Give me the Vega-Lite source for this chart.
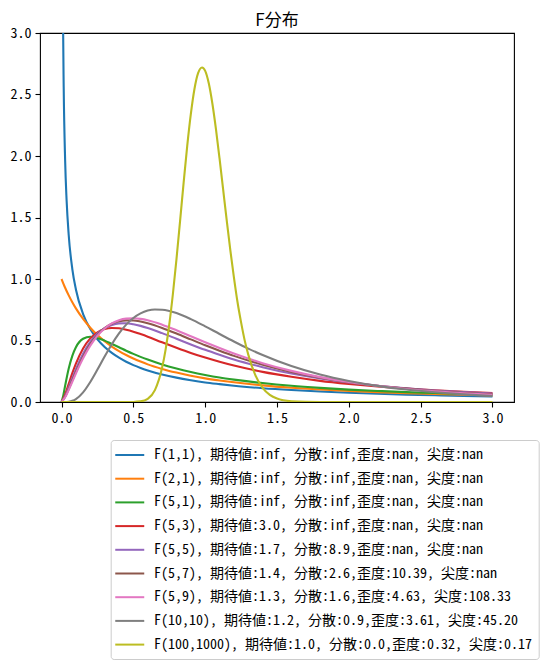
{
  "$schema": "https://vega.github.io/schema/vega-lite/v6.json",
  "width": 474,
  "height": 369,
  "autosize": {"type": "none"},
  "padding": {"left": 40, "top": 33, "right": 32, "bottom": 267},
  "title": {
    "text": "F分布",
    "font": "Noto Sans CJK JP",
    "fontSize": 17,
    "fontWeight": "normal",
    "color": "black",
    "anchor": "middle",
    "offset": -4
  },
  "config": {
    "view": {"stroke": "black", "strokeWidth": 1.1},
    "axis": {
      "domain": false,
      "grid": false,
      "ticks": true,
      "tickColor": "black",
      "tickSize": 5,
      "tickWidth": 1.1,
      "labelFont": "Noto Sans Mono CJK JP, Noto Sans CJK JP",
      "labelFontSize": 14,
      "labelColor": "black",
      "labelPadding": 4,
      "title": null
    },
    "legend": {
      "orient": "none",
      "legendX": 70.7,
      "legendY": 407,
      "title": null,
      "strokeColor": "#cccccc",
      "fillColor": "white",
      "cornerRadius": 3,
      "padding": 6.5,
      "symbolType": "M-1,0H3",
      "symbolStrokeWidth": 2,
      "symbolSize": 210,
      "symbolOffset": -3.2,
      "labelFont": "Noto Sans Mono CJK JP, Noto Sans CJK JP",
      "labelFontSize": 14,
      "labelColor": "black",
      "labelOffset": 23,
      "labelLimit": 0,
      "rowPadding": 7.7
    }
  },
  "datasets": {
    "labels": [
      {"d": "1,1", "label": "F(1,1), 期待値:inf, 分散:inf,歪度:nan, 尖度:nan"},
      {"d": "2,1", "label": "F(2,1), 期待値:inf, 分散:inf,歪度:nan, 尖度:nan"},
      {"d": "5,1", "label": "F(5,1), 期待値:inf, 分散:inf,歪度:nan, 尖度:nan"},
      {"d": "5,3", "label": "F(5,3), 期待値:3.0, 分散:inf,歪度:nan, 尖度:nan"},
      {"d": "5,5", "label": "F(5,5), 期待値:1.7, 分散:8.9,歪度:nan, 尖度:nan"},
      {"d": "5,7", "label": "F(5,7), 期待値:1.4, 分散:2.6,歪度:10.39, 尖度:nan"},
      {"d": "5,9", "label": "F(5,9), 期待値:1.3, 分散:1.6,歪度:4.63, 尖度:108.33"},
      {"d": "10,10", "label": "F(10,10), 期待値:1.2, 分散:0.9,歪度:3.61, 尖度:45.20"},
      {"d": "100,1000", "label": "F(100,1000), 期待値:1.0, 分散:0.0,歪度:0.32, 尖度:0.17"}
    ],
    "curves": [
      {"d": "1,1", "x": 0.002, "y": 7.103}, {"d": "1,1", "x": 0.005, "y": 4.479}, {"d": "1,1", "x": 0.01, "y": 3.152},
      {"d": "1,1", "x": 0.015, "y": 2.561}, {"d": "1,1", "x": 0.025, "y": 1.964}, {"d": "1,1", "x": 0.035, "y": 1.644},
      {"d": "1,1", "x": 0.05, "y": 1.356}, {"d": "1,1", "x": 0.075, "y": 1.081}, {"d": "1,1", "x": 0.1, "y": 0.915},
      {"d": "1,1", "x": 0.15, "y": 0.715}, {"d": "1,1", "x": 0.2, "y": 0.593}, {"d": "1,1", "x": 0.25, "y": 0.509},
      {"d": "1,1", "x": 0.3, "y": 0.447}, {"d": "1,1", "x": 0.35, "y": 0.399}, {"d": "1,1", "x": 0.4, "y": 0.360},
      {"d": "1,1", "x": 0.45, "y": 0.327}, {"d": "1,1", "x": 0.5, "y": 0.300}, {"d": "1,1", "x": 0.55, "y": 0.277},
      {"d": "1,1", "x": 0.6, "y": 0.257}, {"d": "1,1", "x": 0.7, "y": 0.224}, {"d": "1,1", "x": 0.8, "y": 0.198},
      {"d": "1,1", "x": 0.9, "y": 0.177}, {"d": "1,1", "x": 1.0, "y": 0.159}, {"d": "1,1", "x": 1.1, "y": 0.145},
      {"d": "1,1", "x": 1.2, "y": 0.132}, {"d": "1,1", "x": 1.4, "y": 0.112}, {"d": "1,1", "x": 1.6, "y": 0.097},
      {"d": "1,1", "x": 1.8, "y": 0.085}, {"d": "1,1", "x": 2.0, "y": 0.075}, {"d": "1,1", "x": 2.2, "y": 0.067},
      {"d": "1,1", "x": 2.4, "y": 0.060}, {"d": "1,1", "x": 2.6, "y": 0.055}, {"d": "1,1", "x": 2.8, "y": 0.050},
      {"d": "1,1", "x": 3.0, "y": 0.046},

      {"d": "2,1", "x": 0, "y": 1.0}, {"d": "2,1", "x": 0.025, "y": 0.929}, {"d": "2,1", "x": 0.05, "y": 0.867},
      {"d": "2,1", "x": 0.075, "y": 0.811}, {"d": "2,1", "x": 0.1, "y": 0.761}, {"d": "2,1", "x": 0.15, "y": 0.675},
      {"d": "2,1", "x": 0.2, "y": 0.604}, {"d": "2,1", "x": 0.25, "y": 0.544}, {"d": "2,1", "x": 0.3, "y": 0.494},
      {"d": "2,1", "x": 0.35, "y": 0.451}, {"d": "2,1", "x": 0.4, "y": 0.414}, {"d": "2,1", "x": 0.45, "y": 0.382},
      {"d": "2,1", "x": 0.5, "y": 0.354}, {"d": "2,1", "x": 0.55, "y": 0.329}, {"d": "2,1", "x": 0.6, "y": 0.306},
      {"d": "2,1", "x": 0.7, "y": 0.269}, {"d": "2,1", "x": 0.8, "y": 0.239}, {"d": "2,1", "x": 0.9, "y": 0.213},
      {"d": "2,1", "x": 1.0, "y": 0.192}, {"d": "2,1", "x": 1.1, "y": 0.175}, {"d": "2,1", "x": 1.2, "y": 0.160},
      {"d": "2,1", "x": 1.4, "y": 0.135}, {"d": "2,1", "x": 1.6, "y": 0.116}, {"d": "2,1", "x": 1.8, "y": 0.101},
      {"d": "2,1", "x": 2.0, "y": 0.089}, {"d": "2,1", "x": 2.2, "y": 0.080}, {"d": "2,1", "x": 2.4, "y": 0.072},
      {"d": "2,1", "x": 2.6, "y": 0.065}, {"d": "2,1", "x": 2.8, "y": 0.059}, {"d": "2,1", "x": 3.0, "y": 0.054},

      {"d": "5,1", "x": 0, "y": 0}, {"d": "5,1", "x": 0.0125, "y": 0.055}, {"d": "5,1", "x": 0.025, "y": 0.132},
      {"d": "5,1", "x": 0.05, "y": 0.272}, {"d": "5,1", "x": 0.075, "y": 0.375}, {"d": "5,1", "x": 0.1, "y": 0.445},
      {"d": "5,1", "x": 0.15, "y": 0.514}, {"d": "5,1", "x": 0.2, "y": 0.531}, {"d": "5,1", "x": 0.25, "y": 0.521},
      {"d": "5,1", "x": 0.3, "y": 0.499}, {"d": "5,1", "x": 0.35, "y": 0.472}, {"d": "5,1", "x": 0.4, "y": 0.445},
      {"d": "5,1", "x": 0.45, "y": 0.417}, {"d": "5,1", "x": 0.5, "y": 0.391}, {"d": "5,1", "x": 0.55, "y": 0.367},
      {"d": "5,1", "x": 0.6, "y": 0.345}, {"d": "5,1", "x": 0.7, "y": 0.305}, {"d": "5,1", "x": 0.8, "y": 0.272},
      {"d": "5,1", "x": 0.9, "y": 0.244}, {"d": "5,1", "x": 1.0, "y": 0.220}, {"d": "5,1", "x": 1.1, "y": 0.199},
      {"d": "5,1", "x": 1.2, "y": 0.182}, {"d": "5,1", "x": 1.4, "y": 0.154}, {"d": "5,1", "x": 1.6, "y": 0.132},
      {"d": "5,1", "x": 1.8, "y": 0.115}, {"d": "5,1", "x": 2.0, "y": 0.101}, {"d": "5,1", "x": 2.2, "y": 0.090},
      {"d": "5,1", "x": 2.4, "y": 0.080}, {"d": "5,1", "x": 2.6, "y": 0.073}, {"d": "5,1", "x": 2.8, "y": 0.066},
      {"d": "5,1", "x": 3.0, "y": 0.060},

      {"d": "5,3", "x": 0, "y": 0}, {"d": "5,3", "x": 0.025, "y": 0.061}, {"d": "5,3", "x": 0.05, "y": 0.148},
      {"d": "5,3", "x": 0.075, "y": 0.234}, {"d": "5,3", "x": 0.1, "y": 0.312}, {"d": "5,3", "x": 0.15, "y": 0.435},
      {"d": "5,3", "x": 0.2, "y": 0.517}, {"d": "5,3", "x": 0.25, "y": 0.567}, {"d": "5,3", "x": 0.3, "y": 0.593},
      {"d": "5,3", "x": 0.35, "y": 0.602}, {"d": "5,3", "x": 0.4, "y": 0.599}, {"d": "5,3", "x": 0.45, "y": 0.588},
      {"d": "5,3", "x": 0.5, "y": 0.572}, {"d": "5,3", "x": 0.55, "y": 0.552}, {"d": "5,3", "x": 0.6, "y": 0.531},
      {"d": "5,3", "x": 0.7, "y": 0.485}, {"d": "5,3", "x": 0.8, "y": 0.441}, {"d": "5,3", "x": 0.9, "y": 0.399},
      {"d": "5,3", "x": 1.0, "y": 0.361}, {"d": "5,3", "x": 1.1, "y": 0.327}, {"d": "5,3", "x": 1.2, "y": 0.296},
      {"d": "5,3", "x": 1.4, "y": 0.245}, {"d": "5,3", "x": 1.6, "y": 0.205}, {"d": "5,3", "x": 1.8, "y": 0.172},
      {"d": "5,3", "x": 2.0, "y": 0.147}, {"d": "5,3", "x": 2.2, "y": 0.126}, {"d": "5,3", "x": 2.4, "y": 0.109},
      {"d": "5,3", "x": 2.6, "y": 0.095}, {"d": "5,3", "x": 2.8, "y": 0.083}, {"d": "5,3", "x": 3.0, "y": 0.073},

      {"d": "5,5", "x": 0, "y": 0}, {"d": "5,5", "x": 0.025, "y": 0.047}, {"d": "5,5", "x": 0.05, "y": 0.119},
      {"d": "5,5", "x": 0.075, "y": 0.194}, {"d": "5,5", "x": 0.1, "y": 0.267}, {"d": "5,5", "x": 0.15, "y": 0.392},
      {"d": "5,5", "x": 0.2, "y": 0.488}, {"d": "5,5", "x": 0.25, "y": 0.556}, {"d": "5,5", "x": 0.3, "y": 0.601},
      {"d": "5,5", "x": 0.35, "y": 0.627}, {"d": "5,5", "x": 0.4, "y": 0.639}, {"d": "5,5", "x": 0.45, "y": 0.640},
      {"d": "5,5", "x": 0.5, "y": 0.632}, {"d": "5,5", "x": 0.55, "y": 0.619}, {"d": "5,5", "x": 0.6, "y": 0.602},
      {"d": "5,5", "x": 0.7, "y": 0.560}, {"d": "5,5", "x": 0.8, "y": 0.514}, {"d": "5,5", "x": 0.9, "y": 0.468},
      {"d": "5,5", "x": 1.0, "y": 0.424}, {"d": "5,5", "x": 1.1, "y": 0.384}, {"d": "5,5", "x": 1.2, "y": 0.346},
      {"d": "5,5", "x": 1.4, "y": 0.283}, {"d": "5,5", "x": 1.6, "y": 0.231}, {"d": "5,5", "x": 1.8, "y": 0.191},
      {"d": "5,5", "x": 2.0, "y": 0.158}, {"d": "5,5", "x": 2.2, "y": 0.132}, {"d": "5,5", "x": 2.4, "y": 0.111},
      {"d": "5,5", "x": 2.6, "y": 0.094}, {"d": "5,5", "x": 2.8, "y": 0.080}, {"d": "5,5", "x": 3.0, "y": 0.069},

      {"d": "5,7", "x": 0, "y": 0}, {"d": "5,7", "x": 0.025, "y": 0.042}, {"d": "5,7", "x": 0.05, "y": 0.106},
      {"d": "5,7", "x": 0.075, "y": 0.176}, {"d": "5,7", "x": 0.1, "y": 0.245}, {"d": "5,7", "x": 0.15, "y": 0.369},
      {"d": "5,7", "x": 0.2, "y": 0.470}, {"d": "5,7", "x": 0.25, "y": 0.546}, {"d": "5,7", "x": 0.3, "y": 0.600},
      {"d": "5,7", "x": 0.35, "y": 0.636}, {"d": "5,7", "x": 0.4, "y": 0.656}, {"d": "5,7", "x": 0.45, "y": 0.664},
      {"d": "5,7", "x": 0.5, "y": 0.663}, {"d": "5,7", "x": 0.55, "y": 0.654}, {"d": "5,7", "x": 0.6, "y": 0.640},
      {"d": "5,7", "x": 0.7, "y": 0.602}, {"d": "5,7", "x": 0.8, "y": 0.557}, {"d": "5,7", "x": 0.9, "y": 0.509},
      {"d": "5,7", "x": 1.0, "y": 0.461}, {"d": "5,7", "x": 1.1, "y": 0.417}, {"d": "5,7", "x": 1.2, "y": 0.375},
      {"d": "5,7", "x": 1.4, "y": 0.303}, {"d": "5,7", "x": 1.6, "y": 0.245}, {"d": "5,7", "x": 1.8, "y": 0.198},
      {"d": "5,7", "x": 2.0, "y": 0.161}, {"d": "5,7", "x": 2.2, "y": 0.132}, {"d": "5,7", "x": 2.4, "y": 0.109},
      {"d": "5,7", "x": 2.6, "y": 0.090}, {"d": "5,7", "x": 2.8, "y": 0.075}, {"d": "5,7", "x": 3.0, "y": 0.063},

      {"d": "5,9", "x": 0, "y": 0}, {"d": "5,9", "x": 0.025, "y": 0.038}, {"d": "5,9", "x": 0.05, "y": 0.099},
      {"d": "5,9", "x": 0.075, "y": 0.165}, {"d": "5,9", "x": 0.1, "y": 0.232}, {"d": "5,9", "x": 0.15, "y": 0.355},
      {"d": "5,9", "x": 0.2, "y": 0.458}, {"d": "5,9", "x": 0.25, "y": 0.539}, {"d": "5,9", "x": 0.3, "y": 0.598},
      {"d": "5,9", "x": 0.35, "y": 0.639}, {"d": "5,9", "x": 0.4, "y": 0.665}, {"d": "5,9", "x": 0.45, "y": 0.678},
      {"d": "5,9", "x": 0.5, "y": 0.681}, {"d": "5,9", "x": 0.55, "y": 0.676}, {"d": "5,9", "x": 0.6, "y": 0.665},
      {"d": "5,9", "x": 0.7, "y": 0.629}, {"d": "5,9", "x": 0.8, "y": 0.584}, {"d": "5,9", "x": 0.9, "y": 0.535},
      {"d": "5,9", "x": 1.0, "y": 0.486}, {"d": "5,9", "x": 1.1, "y": 0.439}, {"d": "5,9", "x": 1.2, "y": 0.394},
      {"d": "5,9", "x": 1.4, "y": 0.316}, {"d": "5,9", "x": 1.6, "y": 0.253}, {"d": "5,9", "x": 1.8, "y": 0.202},
      {"d": "5,9", "x": 2.0, "y": 0.162}, {"d": "5,9", "x": 2.2, "y": 0.131}, {"d": "5,9", "x": 2.4, "y": 0.106},
      {"d": "5,9", "x": 2.6, "y": 0.086}, {"d": "5,9", "x": 2.8, "y": 0.071}, {"d": "5,9", "x": 3.0, "y": 0.058},

      {"d": "10,10", "x": 0, "y": 0}, {"d": "10,10", "x": 0.025, "y": 0.0002}, {"d": "10,10", "x": 0.05, "y": 0.0024},
      {"d": "10,10", "x": 0.075, "y": 0.0097}, {"d": "10,10", "x": 0.1, "y": 0.0243}, {"d": "10,10", "x": 0.15, "y": 0.0788},
      {"d": "10,10", "x": 0.2, "y": 0.163}, {"d": "10,10", "x": 0.25, "y": 0.264}, {"d": "10,10", "x": 0.3, "y": 0.370},
      {"d": "10,10", "x": 0.35, "y": 0.470}, {"d": "10,10", "x": 0.4, "y": 0.558}, {"d": "10,10", "x": 0.45, "y": 0.629},
      {"d": "10,10", "x": 0.5, "y": 0.683}, {"d": "10,10", "x": 0.55, "y": 0.720}, {"d": "10,10", "x": 0.6, "y": 0.743},
      {"d": "10,10", "x": 0.65, "y": 0.752}, {"d": "10,10", "x": 0.7, "y": 0.750}, {"d": "10,10", "x": 0.8, "y": 0.723},
      {"d": "10,10", "x": 0.9, "y": 0.674}, {"d": "10,10", "x": 1.0, "y": 0.615}, {"d": "10,10", "x": 1.1, "y": 0.553},
      {"d": "10,10", "x": 1.2, "y": 0.492}, {"d": "10,10", "x": 1.3, "y": 0.434}, {"d": "10,10", "x": 1.4, "y": 0.382},
      {"d": "10,10", "x": 1.6, "y": 0.292}, {"d": "10,10", "x": 1.8, "y": 0.223}, {"d": "10,10", "x": 2.0, "y": 0.171},
      {"d": "10,10", "x": 2.2, "y": 0.131}, {"d": "10,10", "x": 2.4, "y": 0.101}, {"d": "10,10", "x": 2.6, "y": 0.079},
      {"d": "10,10", "x": 2.8, "y": 0.062}, {"d": "10,10", "x": 3.0, "y": 0.049},

      {"d": "100,1000", "x": 0, "y": 0}, {"d": "100,1000", "x": 0.4, "y": 0}, {"d": "100,1000", "x": 0.5, "y": 0.0006},
      {"d": "100,1000", "x": 0.55, "y": 0.0048}, {"d": "100,1000", "x": 0.6, "y": 0.0256}, {"d": "100,1000", "x": 0.65, "y": 0.0969},
      {"d": "100,1000", "x": 0.7, "y": 0.2784}, {"d": "100,1000", "x": 0.725, "y": 0.4305}, {"d": "100,1000", "x": 0.75, "y": 0.630},
      {"d": "100,1000", "x": 0.775, "y": 0.876}, {"d": "100,1000", "x": 0.8, "y": 1.160}, {"d": "100,1000", "x": 0.825, "y": 1.469},
      {"d": "100,1000", "x": 0.85, "y": 1.783}, {"d": "100,1000", "x": 0.875, "y": 2.082}, {"d": "100,1000", "x": 0.9, "y": 2.340},
      {"d": "100,1000", "x": 0.925, "y": 2.543}, {"d": "100,1000", "x": 0.95, "y": 2.672}, {"d": "100,1000", "x": 0.978, "y": 2.720},
      {"d": "100,1000", "x": 1.0, "y": 2.692}, {"d": "100,1000", "x": 1.025, "y": 2.591}, {"d": "100,1000", "x": 1.05, "y": 2.427},
      {"d": "100,1000", "x": 1.075, "y": 2.218}, {"d": "100,1000", "x": 1.1, "y": 1.980}, {"d": "100,1000", "x": 1.125, "y": 1.728},
      {"d": "100,1000", "x": 1.15, "y": 1.476}, {"d": "100,1000", "x": 1.175, "y": 1.234}, {"d": "100,1000", "x": 1.2, "y": 1.014},
      {"d": "100,1000", "x": 1.225, "y": 0.813}, {"d": "100,1000", "x": 1.25, "y": 0.647}, {"d": "100,1000", "x": 1.275, "y": 0.501},
      {"d": "100,1000", "x": 1.3, "y": 0.385}, {"d": "100,1000", "x": 1.35, "y": 0.216}, {"d": "100,1000", "x": 1.4, "y": 0.1145},
      {"d": "100,1000", "x": 1.45, "y": 0.0576}, {"d": "100,1000", "x": 1.5, "y": 0.0276}, {"d": "100,1000", "x": 1.6, "y": 0.0056},
      {"d": "100,1000", "x": 1.7, "y": 0.001}, {"d": "100,1000", "x": 1.8, "y": 0.0002}, {"d": "100,1000", "x": 2.0, "y": 0},
      {"d": "100,1000", "x": 3.0, "y": 0}
    ]
  },
  "data": {"name": "curves"},
  "transform": [
    {"lookup": "d", "from": {"data": {"name": "labels"}, "key": "d", "fields": ["label"]}}
  ],
  "mark": {"type": "line", "strokeWidth": 2.1, "clip": true, "interpolate": "monotone"},
  "encoding": {
    "x": {
      "field": "x",
      "type": "quantitative",
      "scale": {"domain": [-0.15, 3.15], "nice": false, "zero": false},
      "axis": {"values": [0, 0.5, 1, 1.5, 2, 2.5, 3], "format": ".1f"}
    },
    "y": {
      "field": "y",
      "type": "quantitative",
      "scale": {"domain": [0, 3], "nice": false},
      "axis": {"values": [0, 0.5, 1, 1.5, 2, 2.5, 3], "format": ".1f"}
    },
    "color": {
      "field": "label",
      "type": "nominal",
      "scale": {
        "domain": [
          "F(1,1), 期待値:inf, 分散:inf,歪度:nan, 尖度:nan",
          "F(2,1), 期待値:inf, 分散:inf,歪度:nan, 尖度:nan",
          "F(5,1), 期待値:inf, 分散:inf,歪度:nan, 尖度:nan",
          "F(5,3), 期待値:3.0, 分散:inf,歪度:nan, 尖度:nan",
          "F(5,5), 期待値:1.7, 分散:8.9,歪度:nan, 尖度:nan",
          "F(5,7), 期待値:1.4, 分散:2.6,歪度:10.39, 尖度:nan",
          "F(5,9), 期待値:1.3, 分散:1.6,歪度:4.63, 尖度:108.33",
          "F(10,10), 期待値:1.2, 分散:0.9,歪度:3.61, 尖度:45.20",
          "F(100,1000), 期待値:1.0, 分散:0.0,歪度:0.32, 尖度:0.17"
        ],
        "range": ["#1f77b4", "#ff7f0e", "#2ca02c", "#d62728", "#9467bd", "#8c564b", "#e377c2", "#7f7f7f", "#bcbd22"]
      }
    },
    "order": {"field": "x", "type": "quantitative"}
  }
}
